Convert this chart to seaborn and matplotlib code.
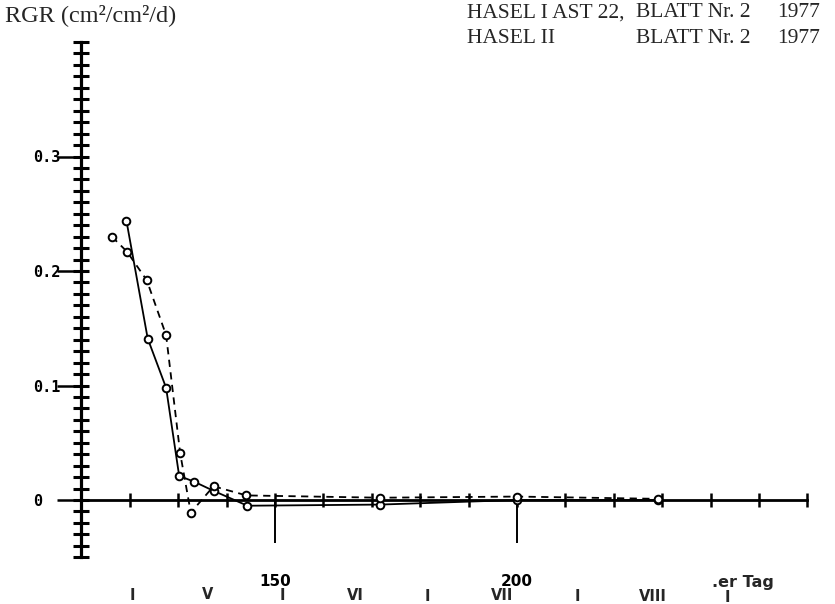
import matplotlib
matplotlib.use("Agg")
import matplotlib.pyplot as plt
import matplotlib.transforms as mtransforms
from matplotlib.ticker import FixedLocator
import numpy as np
import pandas as pd
import seaborn as sns

# ---------------- data ----------------
series_names = ["HASEL I", "HASEL II"]
hasel1_day = [119.3, 123.7, 127.5, 130.2, 133.3, 137.3, 144.3, 171.7, 200.0, 229.2]
hasel1_rgr = [0.244, 0.141, 0.098, 0.021, 0.016, 0.008, -0.005, -0.004, 0.000, 0.000]
hasel2_day = [116.3, 119.4, 123.5, 127.5, 130.4, 132.6, 137.3, 144.1, 171.7, 200.0, 229.2]
hasel2_rgr = [0.230, 0.217, 0.192, 0.144, 0.041, -0.011, 0.012, 0.004, 0.002, 0.003, 0.001]

y_major = [0.0, 0.1, 0.2, 0.3]
y_major_labels = ["0", "0.1", "0.2", "0.3"]
x_major = [150, 200]
x_major_labels = ["150", "200"]
month_bounds = [120.5, 151.5, 181.5, 212.5, 243.5]
month_names = ["V", "VI", "VII", "VIII"]
ylabel_text = "RGR (cm²/cm²/d)"
xlabel_text = ".er Tag"
header_left = ["HASEL I AST 22,", "HASEL II"]
header_mid = ["BLATT Nr. 2", "BLATT Nr. 2"]
header_year = ["1977", "1977"]

# ---------------- figure ----------------
sns.set_style("white")
plt.rcParams["font.family"] = ["DejaVu Sans"]

W, H = 835, 604
fig = plt.figure(figsize=(W / 100, H / 100), dpi=100)

# axes placement in pixels
x_lo, x_hi = 100, 262
y_lo, y_hi = -0.07, 0.41
def px_x(d):
    return 275 + (d - 150) * 4.84
def px_y(v):
    return 500 - v * 1145
l, r = px_x(x_lo), px_x(x_hi)
t, b = px_y(y_hi), px_y(y_lo)
ax = fig.add_axes([l / W, (H - b) / H, (r - l) / W, (b - t) / H])
ax.set_xlim(x_lo, x_hi)
ax.set_ylim(y_lo, y_hi)

df = pd.concat([
    pd.DataFrame({"day": hasel1_day, "rgr": hasel1_rgr, "series": series_names[0]}),
    pd.DataFrame({"day": hasel2_day, "rgr": hasel2_rgr, "series": series_names[1]}),
], ignore_index=True)

sns.lineplot(
    data=df, x="day", y="rgr", style="series", style_order=series_names,
    dashes={series_names[0]: "", series_names[1]: (4, 3)},
    markers={series_names[0]: "o", series_names[1]: "o"},
    color="black", estimator=None, sort=False, legend=False, ax=ax,
    linewidth=1.3, markersize=5.5, markerfacecolor="white",
    markeredgecolor="black", markeredgewidth=1.4, zorder=4, clip_on=False,
)

# spines
for s in ["top", "right"]:
    ax.spines[s].set_visible(False)
ax.spines["left"].set_position(("data", 110))
ax.spines["left"].set_bounds(-0.05, 0.40)
ax.spines["left"].set_linewidth(2.3)
ax.spines["bottom"].set_position(("data", 0))
ax.spines["bottom"].set_bounds(110, 260)
ax.spines["bottom"].set_linewidth(2.0)
for s in ["left", "bottom"]:
    ax.spines[s].set_color("black")

ax.yaxis.remove_overlapping_locs = False
ax.xaxis.remove_overlapping_locs = False

# y ticks
ax.set_yticks(y_major, labels=y_major_labels, ha="left",
              fontfamily="DejaVu Sans Mono", fontweight="bold", fontsize=11)
ax.yaxis.set_minor_locator(FixedLocator(np.arange(-5, 41) / 100))
ax.tick_params(axis="y", which="major", direction="out", length=17, width=1.8,
               pad=17.5, colors="black", left=True)
ax.tick_params(axis="y", which="minor", direction="inout", length=12, width=2.2,
               colors="black", left=True)

# x ticks
ax.set_xticks(x_major, labels=x_major_labels, fontweight="bold", fontsize=11)
ax.xaxis.set_minor_locator(FixedLocator(np.arange(120, 261, 10)))
ax.tick_params(axis="x", which="major", direction="out", length=31, width=1.4,
               pad=22, colors="black", bottom=True)
ax.tick_params(axis="x", which="minor", direction="inout", length=9.5, width=1.8,
               colors="black", bottom=True)
ax.set_xlabel("")
ax.set_ylabel("")
ax.grid(False)

# month row (data x, figure-pixel y)
pix = mtransforms.Affine2D().scale(1 / W, -1 / H).translate(0, 1) + fig.transFigure
tr = mtransforms.blended_transform_factory(ax.transData, pix)
def row_y(d):
    return 594.5 + (px_x(d) - 130) * 0.003
for d in month_bounds:
    ax.text(d, row_y(d) + 0.8, "I", transform=tr, ha="center", va="center",
            fontweight="bold", fontsize=10.5, clip_on=False)
mids = [(a + c) / 2 for a, c in zip(month_bounds[:-1], month_bounds[1:])]
for d, name in zip(mids, month_names):
    ax.text(d, row_y(d), name, transform=tr, ha="center", va="center",
            fontweight="bold", fontsize=10.5, clip_on=False)
ax.text(240.2, 586.5, xlabel_text, transform=tr, ha="left", va="baseline",
        fontweight="bold", fontsize=11.5, clip_on=False)

# header texts
serif = ["Liberation Serif", "DejaVu Serif"]
fig.text(5 / W, 1 - 20.7 / H, ylabel_text, ha="left", va="baseline",
         family=serif, fontsize=17.5)
for i, base in enumerate([17.3, 43.3]):
    fig.text(467 / W, 1 - base / H, header_left[i], ha="left", va="baseline",
             family=serif, fontsize=15.5)
    fig.text(750 / W, 1 - base / H, header_mid[i], ha="right", va="baseline",
             family=serif, fontsize=15.5)
    fig.text(776.7 / W, 1 - base / H, header_year[i], ha="left", va="baseline",
             family=serif, fontsize=15.5)

fig.savefig("out.png", dpi=100, facecolor="white")
